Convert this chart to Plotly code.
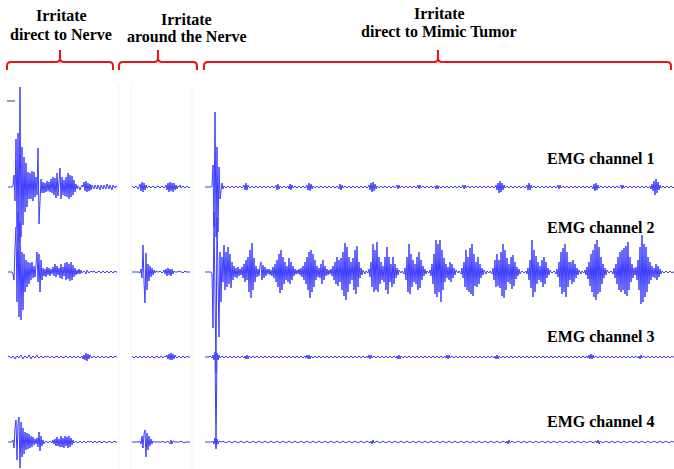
import numpy as np
import plotly.graph_objects as go

# ---------------------------------------------------------------------------
# EMG recordings (amplitude, 1 sample per ms) for the three stimulation sites
# ---------------------------------------------------------------------------

# Site 1: irritate direct to nerve (110 samples)
P1_CH1 = [
    0, 0, 0, 0, 0, 1, 12, -14, 48, -40,
    54, -55, 100, -50, 40, -38, 30, -25, 24, -20,
    15, -12, 14, -12, 16, -14, 15, -10, 10, -8,
    39, -37, -20, 8, -6, 5, -6, 4, -5, 6,
    -4, 5, -5, 8, -6, 10, -8, 9, -11, 14,
    -9, 8, 19, -12, 10, -8, 7, -9, 10, -10,
    14, -12, 12, -10, 11, -8, 7, -5, 3, -2,
    1, 0, -3, 0, 2, 0, 5, -4, 6, -5,
    4, -4, 3, -3, 2, 0, -2, 2, 0, -2,
    2, 0, -3, 2, 0, -2, 2, 0, -2, 3,
    0, -2, 2, 0, -3, 2, 0, -1, 1, 0,
]
P1_CH2 = [
    0, 0, 0, 0, 0, -2, -8, 24, 45, -30,
    60, -45, 50, -48, 20, -38, 18, -20, 12, -15,
    10, -12, 9, -8, 10, -6, 6, -5, 8, 20,
    -10, 18, -20, 12, -8, 4, -4, 3, -5, 5,
    -3, 4, -4, 3, -2, 5, -4, 8, -5, 6,
    -3, 4, -6, 8, -7, 5, -4, 9, -8, 10,
    -7, 8, -9, 10, -8, 7, -5, 4, -3, 2,
    -2, 3, -2, 2, -1, 0, 1, 0, -2, 2,
    0, -1, 0, 1, 0, 0, 1, 0, -1, 0,
    0, 1, 0, -1, 0, 1, 0, -1, 0, 1,
    0, -1, 0, 1, 0, -1, 0, 1, 0, 0,
]
P1_CH3 = [
    0, 1, 0, -1, 0, 1, 0, -2, 0, 1,
    0, -1, 1, 2, 0, -2, 0, 1, 0, -1,
    0, 2, 0, -2, 0, 1, 0, -1, 1, 2,
    0, -1, 0, 1, 0, -1, 0, 1, 0, 0,
    1, 0, -1, 0, 1, 0, -1, 0, 0, 1,
    0, -1, 0, 1, 0, -1, 0, 0, 1, 0,
    -1, 0, 1, 0, -1, 0, 1, 0, -1, 0,
    1, 0, -1, 0, 1, -2, 2, -3, 4, -4,
    3, -2, 2, 0, -1, 0, 1, 0, -1, 0,
    1, 0, -1, 0, 1, 0, -1, 0, 1, 0,
    -1, 0, 0, 1, 0, -1, 0, 1, 0, 0,
]
P1_CH4 = [
    0, 0, 0, 0, 0, 2, -6, 14, 22, -18,
    18, 25, -26, 20, -15, 14, -12, 10, -8, 9,
    -7, 8, -6, 6, -5, 5, -3, 3, -2, 4,
    -5, 10, -9, 6, -4, 2, -2, 0, 1, 0,
    -1, 0, 1, 0, -1, 2, -2, 3, -4, 5,
    -4, 3, -5, 6, -5, 4, -6, 6, -4, 5,
    -6, 6, -5, 4, -3, 2, -1, 0, 1, 0,
    -1, 0, 1, 0, -1, 0, 1, 0, -1, 0,
    1, 0, 0, 1, 0, -1, 0, 1, 0, -1,
    0, 1, 0, 0, -1, 0, 1, 0, 0, -1,
    0, 1, 0, 0, -1, 0, 1, 0, 0, 0,
]

# Site 2: irritate around the nerve (60 samples)
P2_CH1 = [
    0, 1, 0, -1, 0, 1, 0, -2, 0, 3,
    -4, 5, -5, 4, -3, 2, -1, 0, 1, 0,
    -1, 0, 1, 0, -1, 0, 0, 1, 0, -1,
    0, 1, 0, -1, 0, 2, -3, 4, -5, 5,
    -4, 4, -5, 4, -3, 2, -2, 1, 0, 2,
    -1, 0, 1, 0, -1, 0, 1, 0, -1, 0,
]
P2_CH2 = [
    0, 0, 0, 0, 0, 0, 0, 0, 0, -1,
    3, -6, 27, -10, -31, 19, -18, 8, -9, 6,
    -5, 4, -3, 2, -1, 1, 0, 0, 0, 1,
    0, -1, 0, 2, -2, 3, -4, 4, -3, 3,
    -4, 3, -2, 1, 0, 0, 0, 0, 1, 0,
    0, 0, -1, 0, 1, 0, 0, 0, 0, 0,
]
P2_CH3 = [
    0, 1, 0, -1, 0, 1, 0, -1, 0, 1,
    0, -1, 0, 1, 0, -1, 0, 1, 0, -1,
    0, 1, 0, -1, 0, 0, 1, 0, -1, 0,
    1, 0, -1, 0, 1, 0, 2, -2, 3, -3,
    4, -3, 3, -2, 2, 0, -1, 0, 1, 0,
    -1, 0, 1, 0, -1, 0, 1, 0, 0, 0,
]
P2_CH4 = [
    0, 0, 0, 0, 0, 0, 0, 0, 0, 1,
    -2, 6, -6, 8, 12, -15, 9, -8, 6, -4,
    3, -2, 1, 0, 0, 0, 0, 0, 0, 0,
    0, 0, 1, 0, -1, 0, 0, 1, 0, -2,
    2, -2, 1, 0, 0, 0, 0, 0, 0, 0,
    1, 0, 0, -1, 0, 0, 0, 0, 0, 0,
]

# Site 3: irritate direct to mimic tumor (470 samples)
P3_CH1 = [
    0, 0, 0, 0, 0, 0, 0, 1, 22, -40,
    75, -50, 40, -45, 20, -12, -6, 4, -2, 1,
    0, -1, 0, 1, 0, -1, 0, 1, 0, -1,
    0, 1, 0, -1, 0, 1, 0, -1, 0, 2,
    -3, 4, -3, 2, 0, -1, 0, 1, 0, -1,
    0, 1, 0, -1, 0, 1, 0, -1, 0, 1,
    0, -1, 0, 1, 0, -1, 0, 1, 0, -1,
    0, 2, -3, 3, -2, 1, 0, -1, 0, 1,
    0, -1, 0, 1, -2, 3, -3, 2, -1, 0,
    1, 0, -1, 0, 1, 0, -1, 0, 1, 0,
    -1, 0, 2, -3, 4, -4, 3, -2, 1, 0,
    -1, 0, 1, 0, -1, 0, 1, 0, -1, 0,
    1, 0, -1, 0, 1, 0, -1, 0, 1, 0,
    -1, 0, 1, 0, -2, 3, -3, 2, -1, 0,
    1, 0, -1, 0, 1, 0, -1, 0, 1, 0,
    -1, 0, 1, 0, -1, 0, 1, 0, -1, 0,
    1, 0, -1, 0, 2, -3, 4, -5, 5, -4,
    3, -2, 1, 0, -1, 0, 1, 0, -1, 0,
    1, 0, -1, 0, 1, 0, -1, 0, 1, 0,
    -1, 0, 2, -2, 2, -1, 0, 1, 0, -1,
    0, 1, 0, -1, 0, 1, 0, -1, 0, 1,
    0, -1, 0, 2, -2, 2, -1, 0, 1, 0,
    -1, 0, 1, 0, -1, 0, 1, 0, -1, 0,
    1, -2, 2, -2, 1, 0, -1, 0, 1, 0,
    -1, 0, 1, 0, -1, 0, 1, 0, -1, 0,
    1, 0, -1, 0, 1, 0, -1, 0, 2, -2,
    2, -1, 0, 1, 0, -1, 0, 1, 0, -1,
    0, 1, 0, -1, 0, 1, 0, -1, 0, 1,
    0, -1, 0, 1, 0, -1, 0, 1, 0, -1,
    0, 2, -3, 4, -6, 6, -5, 4, -3, 2,
    -1, 0, 1, 0, -1, 0, 1, 0, -1, 0,
    1, 0, -1, 0, 1, 0, -1, 0, 1, 0,
    -1, 0, 2, -3, 4, -3, 2, -1, 0, 1,
    0, -1, 0, 1, 0, -1, 0, 1, 0, -1,
    0, 1, 0, -1, 0, 1, 0, -1, 0, 1,
    0, -1, 0, 2, -2, 2, -1, 0, 1, 0,
    -1, 0, 1, 0, -1, 0, 1, 0, -1, 0,
    1, 0, -1, 0, 1, 0, -1, 0, 1, 0,
    -1, 0, 1, 0, -1, 0, 1, 0, -2, 3,
    -4, 4, -3, 2, -1, 0, 1, 0, -1, 0,
    1, 0, -1, 0, 1, 0, -1, 0, 1, 0,
    -1, 0, 1, 0, -1, 0, 2, -2, 2, -1,
    0, 1, 0, -1, 0, 1, 0, -1, 0, 1,
    0, -1, 0, 1, 0, -1, 0, 1, 0, -1,
    0, 1, 0, -1, 0, 1, -2, 3, -4, 6,
    -8, 8, -6, 5, -3, 2, -1, 0, 1, 0,
    -1, 0, 1, 0, -1, 0, 1, 0, -1, 0,
]
P3_CH2 = [
    0, 0, 0, 0, 0, 0, 0, -2, -56, 60,
    -40, -101, 55, -40, -65, 20, -30, 15, -10, 27,
    -18, 20, -15, 25, -12, 18, -16, 10, -8, 6,
    -5, 4, -6, 5, -4, 3, -3, 5, -6, 8,
    -10, 12, -8, 15, -20, 22, -26, 29, -18, 14,
    -10, 6, -5, 3, -4, 6, 10, -8, 7, -6,
    5, -4, 3, -2, 3, -3, 2, -4, 5, -6,
    8, -10, 12, -15, 18, -21, 22, -18, 15, -12,
    10, -8, 6, -10, 14, -12, 10, -8, 6, -4,
    3, -2, 2, -2, 3, -3, 4, -5, 6, -8,
    10, -12, 15, -18, 20, -26, 22, -20, 18, -15,
    12, -8, 6, -5, 4, -6, 8, -12, 12, -8,
    6, -4, 3, -3, 2, -2, 3, -4, 6, -8,
    10, -12, 15, -14, 12, -10, 14, -18, 20, -24,
    29, -28, 25, -20, 15, -12, 10, -8, 14, -18,
    22, -22, 26, -15, 10, -6, 4, -3, 2, 0,
    -2, 1, 0, -1, 3, -5, 10, -15, 28, -20,
    22, -18, 30, -20, 15, -12, 10, -8, 6, -10,
    15, -18, 25, -22, 15, -10, 8, -15, 15, -12,
    8, -6, 4, -3, 2, 0, -1, 1, 0, -2,
    4, -8, 15, -20, 28, -22, 18, -15, 12, -10,
    8, -12, 15, -18, 20, -16, 12, -8, 6, -4,
    3, -2, 1, 0, -1, 2, -4, 8, -12, 18,
    -22, 32, -25, 28, -20, 32, -30, 22, -18, 14,
    -10, 8, -6, 5, -8, 10, -10, 8, -6, 4,
    -3, 2, 0, -1, 1, 0, -2, 4, -6, 10,
    -15, 22, -18, 15, -20, 24, -22, 28, -24, 18,
    -14, 10, -15, 15, -12, 8, -6, 4, -3, 2,
    0, -2, 1, 0, -1, 1, 0, -2, 4, -8,
    12, -15, 18, -14, 12, -16, 20, -24, 28, -26,
    22, -18, 14, -10, 8, -12, 15, -17, 17, -14,
    10, -7, 5, -4, 3, -2, 0, 1, 0, -1,
    0, 1, -2, 4, -8, 12, -16, 32, -25, 22,
    -20, 16, -12, 10, -8, 6, -10, 12, -15, 15,
    -12, 10, -6, 4, -3, 2, 0, -1, 0, 1,
    0, -2, 3, -5, 10, -15, 20, -22, 24, -20,
    28, -25, 20, -15, 10, -8, 10, -12, 12, -10,
    8, -6, 4, -3, 2, 0, -2, 1, 0, -1,
    2, -3, 5, -7, 10, -14, 18, -20, 22, -25,
    28, -28, 32, -22, 25, -20, 15, -12, 8, -6,
    4, -3, 2, 0, -1, 0, 1, 0, -2, 4,
    -6, 8, -12, 15, -18, 20, -20, 22, -18, 24,
    -22, 26, -24, 30, -18, 15, -10, 8, -6, 4,
    -3, 5, -8, 12, -18, 25, -32, 37, -30, 28,
    -25, 25, -20, 15, -12, 10, -8, 6, -5, 4,
    -6, 8, -8, 6, -5, 3, -2, 1, 0, -1,
    0, 1, 0, -1, 0, 1, 0, -1, 0, 0,
]
P3_CH3 = [
    0, 0, 0, 0, 0, 1, 0, -1, 2, -3,
    5, -88, 4, -3, 2, -1, 0, 1, 0, -1,
    0, 1, 0, -1, 0, 1, 0, -1, 0, 1,
    0, -1, 0, 1, 0, -1, 0, 1, 0, -1,
    1, -2, 2, -2, 1, 0, -1, 0, 1, 0,
    -1, 0, 1, 0, -1, 0, 1, 0, -1, 0,
    1, 0, -1, 0, 1, 0, -1, 0, 1, 0,
    -1, 0, 1, 0, -1, 0, 1, 0, -1, 0,
    1, 0, -1, 0, 1, 0, -1, 0, 1, 0,
    -1, 0, 1, 0, -1, 0, 1, 0, -1, 0,
    1, -1, 2, -2, 2, -2, 1, 0, -1, 0,
    1, 0, -1, 0, 1, 0, -1, 0, 1, 0,
    -1, 0, 1, 0, -1, 0, 1, 0, -1, 0,
    1, 0, -1, 0, 1, 0, -1, 0, 1, 0,
    -1, 0, 1, 0, -1, 0, 1, 0, -1, 0,
    1, 0, -1, 0, 1, 0, -1, 0, 1, 0,
    -1, 0, 1, -1, 2, -2, 2, -1, 0, 1,
    0, -1, 0, 1, 0, -1, 0, 1, 0, -1,
    0, 1, 0, -1, 0, 1, 0, -1, 0, 1,
    0, -1, 1, -2, 2, -2, 1, 0, -1, 0,
    1, 0, -1, 0, 1, 0, -1, 0, 1, 0,
    -1, 0, 1, 0, -1, 0, 1, 0, -1, 0,
    1, 0, -1, 0, 1, 0, -1, 0, 1, 0,
    -1, 0, 1, 0, -1, 0, 1, 0, -1, 0,
    1, -1, 2, -2, 2, -1, 0, 1, 0, -1,
    0, 1, 0, -1, 0, 1, 0, -1, 0, 1,
    0, -1, 0, 1, 0, -1, 0, 1, 0, -1,
    0, 1, 0, -1, 0, 1, 0, -1, 0, 1,
    0, -1, 0, 1, 0, -1, 0, 1, 0, -1,
    1, -2, 2, -2, 1, 0, -1, 0, 1, 0,
    -1, 0, 1, 0, -1, 0, 1, 0, -1, 0,
    1, 0, -1, 0, 1, 0, -1, 0, 1, 0,
    -1, 0, 1, 0, -1, 0, 1, 0, -1, 0,
    1, 0, -1, 0, 1, 0, -1, 0, 1, 0,
    -1, 0, 1, 0, -1, 0, 1, 0, -1, 0,
    1, 0, -1, 0, 1, 0, -1, 0, 1, 0,
    -1, 0, 1, 0, -1, 0, 1, 0, -1, 0,
    1, 0, -1, 0, 1, 0, -1, 0, 1, 0,
    -1, 0, 1, -1, 2, -2, 3, -2, 2, -1,
    0, 1, 0, -1, 0, 1, 0, -1, 0, 1,
    0, -1, 0, 1, 0, -1, 0, 1, 0, -1,
    0, 1, 0, -1, 0, 1, 0, -1, 0, 1,
    0, -1, 0, 1, 0, -1, 0, 1, 0, -1,
    0, 1, 0, -1, 1, -2, 2, -1, 0, 1,
    0, -1, 0, 1, 0, -1, 0, 1, 0, -1,
    0, 1, 0, -1, 0, 1, 0, -1, 0, 1,
    0, -1, 0, 1, 0, -1, 0, 1, 0, 0,
]
P3_CH4 = [
    0, 0, 0, 0, 0, 0, 0, 0, 1, -2,
    4, -7, 3, -2, 1, 0, 0, 0, 1, 0,
    0, -1, 0, 0, 1, 0, 0, -1, 0, 0,
    1, 0, 0, -1, 0, 0, 1, 0, 0, -1,
    0, 0, 1, 0, 0, -1, 0, 0, 1, 0,
    0, -1, 0, 0, 1, 0, 0, -1, 0, 0,
    1, 0, 0, -1, 0, 0, 1, 0, 0, -1,
    0, 0, 1, 0, 0, -1, 0, 0, 1, 0,
    0, -1, 0, 0, 1, 0, 0, -1, 0, 0,
    1, 0, 0, -1, 0, 0, 1, 0, 0, -1,
    0, 0, 1, 0, 0, -1, 0, 0, 1, 0,
    0, -1, 0, 0, 1, 0, 0, -1, 0, 0,
    1, 0, 0, -1, 0, 0, 1, 0, 0, -1,
    0, 0, 1, 0, 0, -1, 0, 0, 1, 0,
    0, -1, 0, 0, 1, 0, 0, -1, 0, 0,
    1, 0, 0, -1, 0, 0, 1, 0, 0, -1,
    0, 0, 1, 0, 0, -1, 1, -2, 2, -1,
    0, 0, 1, 0, 0, -1, 0, 0, 1, 0,
    0, -1, 0, 0, 1, 0, 0, -1, 0, 0,
    1, 0, 0, -1, 0, 0, 1, 0, 0, -1,
    0, 0, 1, 0, 0, -1, 0, 0, 1, 0,
    0, -1, 0, 0, 1, 0, 0, -1, 0, 0,
    1, 0, 0, -1, 0, 0, 1, 0, 0, -1,
    0, 0, 1, 0, 0, -1, 0, 0, 1, 0,
    0, -1, 0, 0, 1, 0, 0, -1, 0, 0,
    1, 0, 0, -1, 0, 0, 1, 0, 0, -1,
    0, 0, 1, 0, 0, -1, 0, 0, 1, 0,
    0, -1, 0, 0, 1, 0, 0, -1, 0, 0,
    1, 0, 0, -1, 0, 0, 1, 0, 0, -1,
    0, 0, 1, 0, 0, -1, 0, 0, 1, 0,
    0, -1, 1, -2, 2, -1, 0, 1, 0, 0,
    -1, 0, 0, 1, 0, 0, -1, 0, 0, 1,
    0, 0, -1, 0, 0, 1, 0, 0, -1, 0,
    0, 1, 0, 0, -1, 0, 0, 1, 0, 0,
    -1, 0, 0, 1, 0, 0, -1, 0, 0, 1,
    0, 0, -1, 0, 0, 1, 0, 0, -1, 0,
    0, 1, 0, 0, -1, 0, 0, 1, 0, 0,
    -1, 0, 0, 1, 0, 0, -1, 0, 0, 1,
    0, 0, -1, 0, 0, 1, 0, 0, -1, 0,
    0, 1, -1, 2, -2, 1, 0, 0, -1, 0,
    0, 1, 0, 0, -1, 0, 0, 1, 0, 0,
    -1, 0, 0, 1, 0, 0, -1, 0, 0, 1,
    0, 0, -1, 0, 0, 1, 0, 0, -1, 0,
    0, 1, 0, 0, -1, 0, 0, 1, 0, 0,
    -1, 0, 0, 1, 0, 0, -1, 0, 0, 1,
    0, 0, -1, 0, 0, 1, 0, 0, -1, 0,
    0, 1, 0, 0, -1, 0, 0, 1, 0, 0,
]

SITE_TITLES = [
    ("Irritate", "direct to Nerve"),
    ("Irritate", "around the Nerve"),
    ("Irritate", "direct to Mimic Tumor"),
]
CHANNEL_NAMES = ["EMG channel 1", "EMG channel 2", "EMG channel 3", "EMG channel 4"]

SITES = [
    [P1_CH1, P1_CH2, P1_CH3, P1_CH4],
    [P2_CH1, P2_CH2, P2_CH3, P2_CH4],
    [P3_CH1, P3_CH2, P3_CH3, P3_CH4],
]

# ---------------------------------------------------------------------------
# Layout constants
# ---------------------------------------------------------------------------
W, H = 674, 469
CH_SPACING = 85                       # vertical distance between channel traces
Y_RANGE = [-282, 187]                 # shared amplitude axis
X_DOMAINS = [(8, 117), (131, 190), (205, 674)]   # panel extents in px
TRACE_COLOR = "rgb(60,60,255)"
RED = "rgb(235,20,20)"
SERIF = "Liberation Serif, Times New Roman, serif"


def px(x):
    return x / W


def py(y):
    return 1 - y / H


fig = go.Figure()

axis_names = ["x", "x2", "x3"]
for s, (site, dom) in enumerate(zip(SITES, X_DOMAINS)):
    for c, sig in enumerate(site):
        v = np.asarray(sig, dtype=float)
        t = np.arange(len(v))
        fig.add_trace(go.Scatter(
            x=t, y=v - c * CH_SPACING,
            xaxis=axis_names[s], yaxis="y",
            mode="lines",
            line=dict(color=TRACE_COLOR, width=1),
            hoverinfo="skip", showlegend=False,
        ))
    n = len(site[0])
    key = "xaxis" if s == 0 else f"xaxis{s + 1}"
    fig.layout[key] = dict(domain=[px(dom[0]), px(dom[1])], range=[0, n - 1],
                           visible=False, anchor="y", fixedrange=True)

fig.update_layout(
    width=W, height=H,
    margin=dict(l=0, r=0, t=0, b=0),
    paper_bgcolor="white", plot_bgcolor="white",
    yaxis=dict(range=Y_RANGE, visible=False, fixedrange=True),
)

shapes = []
# faint frame lines around the recording panels
for xv in (119, 131.5, 192):
    shapes.append(dict(type="line", xref="paper", yref="paper",
                       x0=px(xv), x1=px(xv), y0=py(84), y1=py(469),
                       line=dict(color="rgb(244,244,244)", width=1)))
# small scale mark
shapes.append(dict(type="line", xref="paper", yref="paper",
                   x0=px(7), x1=px(15), y0=py(101), y1=py(101),
                   line=dict(color="rgb(60,60,60)", width=1)))


def bracket(x0, x1, xc, ybar=62, yend=70, ytop=50, r=4):
    pts = [
        f"M {px(x0)},{py(yend)}",
        f"L {px(x0)},{py(ybar + r)}",
        f"Q {px(x0)},{py(ybar)} {px(x0 + r)},{py(ybar)}",
        f"L {px(xc - r)},{py(ybar)}",
        f"Q {px(xc)},{py(ybar)} {px(xc)},{py(ybar - r)}",
        f"L {px(xc)},{py(ytop)}",
        f"M {px(xc)},{py(ybar - r)}",
        f"Q {px(xc)},{py(ybar)} {px(xc + r)},{py(ybar)}",
        f"L {px(x1 - r)},{py(ybar)}",
        f"Q {px(x1)},{py(ybar)} {px(x1)},{py(ybar + r)}",
        f"L {px(x1)},{py(yend)}",
    ]
    return dict(type="path", xref="paper", yref="paper", path=" ".join(pts),
                line=dict(color=RED, width=2))


shapes.append(bracket(7, 113, 60))
shapes.append(bracket(119, 197, 158))
shapes.append(bracket(204, 671, 438))
fig.update_layout(shapes=shapes)

annotations = []
title_pos = [(61, 16, 34), (187, 20, 37), (439, 14, 32)]
for (l1, l2), (cx, y1, y2) in zip(SITE_TITLES, title_pos):
    for text, yy in ((l1, y1), (l2, y2)):
        annotations.append(dict(
            text=text, xref="paper", yref="paper", x=px(cx), y=py(yy),
            xanchor="center", yanchor="middle", showarrow=False,
            font=dict(family=SERIF, size=16, color="black", weight="bold"),
        ))

label_y = [158, 227, 336, 421]
for name, yy in zip(CHANNEL_NAMES, label_y):
    annotations.append(dict(
        text=name, xref="paper", yref="paper", x=px(657), y=py(yy),
        xanchor="right", yanchor="middle", showarrow=False,
        font=dict(family=SERIF, size=16, color="black", weight="bold"),
    ))
fig.update_layout(annotations=annotations)

fig.write_html("out.html")
